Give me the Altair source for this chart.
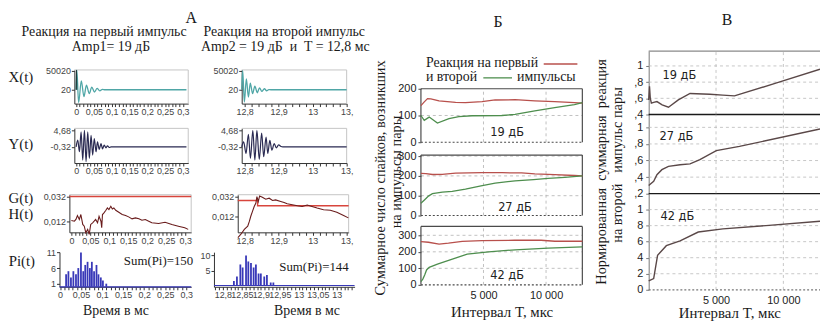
import altair as alt
import pandas as pd

# ======================= DATA =======================
# Panel A, reaction to the first pulse (time, ms)
XL_T = [0.0, 0.002, 0.007, 0.0145, 0.022, 0.029, 0.037, 0.044, 0.0515, 0.059, 0.0665, 0.074, 0.081, 0.31]
XL_V = [20, 52000, -34000, 23700, -18400, 12000, -10500, 7000, -6000, 3500, -3000, 1200, 20, 20]
XL_STIM_T = [0.0, 0.001, 0.002]
XL_STIM_V = [20, 52000, 20]
YL_T = [0.0, 0.0046, 0.0093, 0.014, 0.0186, 0.0233, 0.028, 0.0326, 0.0372, 0.042, 0.0465, 0.051,
        0.056, 0.060, 0.065, 0.070, 0.074, 0.079, 0.084, 0.088, 0.093, 0.098, 0.31]
YL_V = [-0.32, 1.7, -1.8, 4.2, -4.3, 4.68, -4.8, 4.2, -3.8, 3.2, -2.8, 2.2,
        -1.8, 1.2, -1.1, 0.7, -0.9, 0.2, -0.6, 0.0, -0.5, -0.32, -0.32]
GL_G_T = [-0.0052, 0.3159]
GL_G_V = [0.032, 0.032]
GL_H_T = [0.0, 0.008, 0.012, 0.016, 0.021, 0.025, 0.030, 0.034, 0.038, 0.043, 0.047, 0.051, 0.056,
          0.060, 0.064, 0.069, 0.073, 0.078, 0.080, 0.082, 0.086, 0.091, 0.095, 0.099, 0.104, 0.108,
          0.112, 0.117, 0.125, 0.134, 0.143, 0.151, 0.160, 0.169, 0.178, 0.186, 0.195, 0.204, 0.212,
          0.230, 0.247, 0.265, 0.282, 0.299, 0.308]
GL_H_V = [0.0125, 0.0120, 0.0134, 0.0166, 0.0134, 0.0174, 0.0094, 0.0080, 0.0027, 0.0054, 0.0014,
          0.0094, 0.0107, 0.0120, 0.0134, 0.0107, 0.0160, 0.0120, 0.0067, 0.0174, 0.0187, 0.0208,
          0.0227, 0.0214, 0.0240, 0.0219, 0.0227, 0.0208, 0.0192, 0.0174, 0.0166, 0.0155, 0.0139,
          0.0147, 0.0139, 0.0128, 0.0134, 0.0120, 0.0107, 0.0102, 0.0112, 0.0094, 0.0080, 0.0067, 0.0054]
PL_T = [0.0145, 0.020, 0.026, 0.0318, 0.038, 0.0435, 0.0498, 0.0553, 0.060, 0.0655, 0.071, 0.0757,
        0.081, 0.0867, 0.0914, 0.097, 0.102, 0.110]
PL_H = [4, 5, 3, 5, 4, 6, 11, 5, 7, 8, 6, 8, 5, 7, 4, 3, 2, 1]
PL_BASE_T = [-0.0012, 0.3118]

# Panel A, reaction to the second pulse (time, ms)
XR_T = [12.7913, 12.7942, 12.7991, 12.805, 12.811, 12.8166, 12.8233, 12.830, 12.837, 12.8437,
        12.8504, 12.858, 12.8647, 12.871, 12.877, 13.1]
XR_V = [20, 50800, -32600, 28950, -19450, 17390, -10500, 9500, -7900, 5280, -4470, 2650, -2610, 500, 20, 20]
YR_T = [12.7913, 12.797, 12.804, 12.811, 12.817, 12.824, 12.830, 12.836, 12.843, 12.850, 12.856,
        12.863, 12.868, 12.874, 12.880, 12.887, 12.893, 12.900, 12.907, 12.912, 13.1]
YR_V = [-0.32, 1.18, -2.30, 3.48, -3.79, 4.68, -4.30, 4.68, -4.09, 3.87, -3.31, 2.67, -2.30, 1.69,
        -1.31, 0.70, -0.62, 0.28, -0.20, -0.32, -0.32]
GR_G_T = [12.7796, 12.838, 12.838, 13.1058]
GR_G_V = [0.0284, 0.0284, 0.0231, 0.0231]
GR_H_T = [12.780, 12.789, 12.799, 12.809, 12.814, 12.818, 12.823, 12.828, 12.833, 12.836, 12.840,
          12.844, 12.852, 12.862, 12.872, 12.882, 12.891, 12.906, 12.916, 12.925, 12.940, 12.955,
          12.969, 12.984, 12.998, 13.013, 13.032, 13.052, 13.071, 13.091, 13.105]
GR_H_V = [-0.0087, -0.0054, -0.0005, 0.0027, 0.0077, 0.0126, 0.0175, 0.0224, 0.0258, 0.0323, 0.0274,
          0.0330, 0.0317, 0.0297, 0.0307, 0.0284, 0.0290, 0.0274, 0.0264, 0.0251, 0.0241, 0.0231,
          0.0224, 0.0238, 0.0224, 0.0209, 0.0192, 0.0186, 0.0166, 0.0133, 0.0110]
PR_T = [12.829, 12.837, 12.846, 12.852, 12.861, 12.867, 12.874, 12.881, 12.887, 12.894, 12.900,
        12.909, 12.916, 12.926, 12.933]
PR_H = [1.5, 3, 7, 6, 10, 8, 7.5, 6, 7, 4, 4, 3, 3.5, 1, 1]
PR_BASE_T = [12.7765, 13.147]

# Panel B: total spikes vs interval T (us)
B1_RED_T = [0, 250, 527, 791, 1450, 2770, 3560, 4880, 5930, 7520, 9100, 10690, 12270, 12900]
B1_RED_V = [137, 150, 163, 162, 155, 149, 148, 152, 158, 159, 155, 152, 148, 146]
B1_GRN_T = [0, 264, 659, 1318, 2240, 3030, 4090, 6460, 7520, 9100, 10690, 12270, 12900]
B1_GRN_V = [100, 82, 94, 72, 88, 96, 99, 100, 104, 117, 129, 141, 148]
B2_RED_T = [0, 400, 920, 1700, 2770, 4880, 6500, 8050, 9100, 10690, 12270, 12900]
B2_RED_V = [213, 212, 207, 208, 214, 216, 216, 215, 210, 206, 202, 200]
B2_GRN_T = [0, 300, 600, 920, 1710, 2500, 3560, 4800, 5930, 7520, 9000, 10160, 11500, 12900]
B2_GRN_V = [62, 80, 98, 110, 118, 122, 133, 150, 163, 175, 181, 187, 193, 200]
B3_RED_T = [0, 600, 1450, 2200, 3300, 4880, 7500, 9600, 10700, 12900]
B3_RED_V = [262, 258, 247, 252, 263, 268, 270, 270, 264, 264]
B3_GRN_T = [0, 150, 300, 450, 660, 1320, 2510, 3700, 5410, 7520, 10160, 12900]
B3_GRN_V = [20, 35, 60, 90, 106, 126, 156, 186, 200, 212, 222, 230]

# Panel V: normalized response to the second pulse
V1_T = [0, 60, 120, 200, 370, 613, 1000, 1470, 2200, 3070, 4540, 5500, 6370, 9500, 12720]
V1_V = [0.58, 0.75, 0.6, 0.54, 0.55, 0.56, 0.52, 0.49, 0.58, 0.66, 0.65, 0.64, 0.63, 0.79, 0.96]
V2_T = [0, 370, 613, 980, 1470, 2330, 3070, 3800, 5020, 6740, 12720]
V2_V = [0.30, 0.35, 0.43, 0.49, 0.53, 0.55, 0.56, 0.61, 0.72, 0.77, 0.98]
V3_T = [0, 370, 660, 1310, 2330, 3680, 5510, 8700, 12720]
V3_V = [0.11, 0.14, 0.43, 0.55, 0.61, 0.72, 0.76, 0.80, 0.855]

# tick values / labels
AL_TICKS = [0, 0.05, 0.1, 0.15, 0.2, 0.25, 0.3]
AL_LABELS = ["0", "0,05", "0,1", "0,15", "0,2", "0,25", "0,3"]
AR_TICKS = [12.8, 12.9, 13.0, 13.1]
AR_LABELS = ["12,8", "12,9", "13", "13,"]
PR_TICKS = [12.8, 12.85, 12.9, 12.95, 13.0, 13.05, 13.1]
PR_LABELS = ["12,8", "12,85", "12,9", "12,95", "13", "13,05", "13"]
X_YT, X_YL = [20, 50020], ["20", "50020"]
Y_YT, Y_YL = [-0.32, 4.68], ["-0,32", "4,68"]
G_YT, G_YL = [0.012, 0.032], ["0,012", "0,032"]
PL_YT, PL_YL = [1, 6, 11], ["1", "6", "11"]
PR_YT, PR_YL = [5, 10], ["5", "10"]
T_TICKS, T_LABELS = [5000, 10000], ["5 000", "10 000"]
B1_YT, B1_YL = [0, 100, 200], ["0", "100", "200"]
B23_YT, B23_YL = [0, 100, 200, 300], ["0", "100", "200", "300"]
V1_YT, V1_YL = [0.4, 0.6, 0.8, 1.0], [",4", ",6", ",8", "1"]
V2_YT, V2_YL = [0.2, 0.4, 0.6, 0.8, 1.0], [",2", ",4", ",6", ",8", "1"]
V3_YT, V3_YL = [0, 0.2, 0.4, 0.6, 0.8, 1.0], ["0", "2", "4", "6", "8", "1"]

# texts
NB = "\u00a0"
HEAD_A, HEAD_B, HEAD_V = "А", "Б", "В"
SUB_L = ["Реакция на первый импульс", "Amp1= 19 дБ"]
SUB_R = ["Реакция на второй импульс", f"Amp2 = 19 дБ {NB}и {NB}T = 12,8 мс"]
ROW_LABELS = ["X(t)", "Y(t)", "G(t)", "H(t)", "Pi(t)"]
TIME_TITLE = "Время в мс"
SUMS = ["Sum(Pi)=150", "Sum(Pi)=144"]
DB_LABELS = ["19 дБ", "27 дБ", "42 дБ"]
B_YTITLE = ["Суммарное число спайков, возникших", "на импульсы пары"]
V_YTITLE = [f"Нормированная {NB}суммарная {NB}реакция", f"на второй {NB}{NB}импульс пары"]
T_TITLE = "Интервал T, мкс"
LEGEND = ["Реакция на первый", "и второй", "импульсы"]

# ======================= LAYOUT =======================
W, H = 820, 315
M = 8
SANS = "Liberation Sans"
SERIF = "Liberation Serif"
TEAL, NAVY, GRED, HDARK, BLUE = "#4fa6a6", "#2a2a52", "#d8453c", "#6a1c1c", "#3838b8"
BRED, BGRN, VLINE = "#b8504c", "#4e8e4e", "#5a4848"


def X(px):
    return px - M


def Y(py):
    return py - M


def lab_expr(vals, labels):
    e = "''"
    for v, l in zip(reversed(vals), reversed(labels)):
        e = f"(abs(datum.value - ({v})) < 1e-7 ? '{l}' : {e})"
    return e


def xaxis(py, ticks, vals, labels, size=9, color="#444", tick=3, pad=1, dom=True, dcol="#333"):
    return alt.Axis(orient="bottom", offset=Y(py) - H, values=ticks, labelExpr=lab_expr(vals, labels),
                    title=None, grid=False, labelFlush=False, labelOverlap=False, labelBound=False,
                    tickSize=tick, tickColor=dcol, domain=dom, domainColor=dcol, labelPadding=pad,
                    labelFont=SANS, labelFontSize=size, labelColor=color)


def yaxis(px, ticks, vals, labels, size=9, color="#444", tick=3, pad=1, dom=True, dcol="#333"):
    return alt.Axis(orient="left", offset=-X(px), values=ticks, labelExpr=lab_expr(vals, labels),
                    title=None, grid=False, labelFlush=False, labelOverlap=False, labelBound=False,
                    tickSize=tick, tickColor=dcol, domain=dom, domainColor=dcol, labelPadding=pad,
                    labelFont=SANS, labelFontSize=size, labelColor=color)


def line_df(t, v):
    return pd.DataFrame({"t": t, "v": v})


def seg_df(rows):
    return pd.DataFrame(rows, columns=["t", "v", "t2", "v2"])


def panel(xdom, xpx, ydom, ypx, xax, yax, items):
    xs = alt.Scale(domain=xdom, range=[X(xpx[0]), X(xpx[1])], nice=False, zero=False)
    ys = alt.Scale(domain=ydom, range=[Y(ypx[0]), Y(ypx[1])], nice=False, zero=False)
    ex = alt.X("t:Q", scale=xs, axis=xax)
    ey = alt.Y("v:Q", scale=ys, axis=yax)
    layers = []
    for kind, df, props in items:
        if kind == "line":
            layers.append(alt.Chart(df).mark_line(**props).encode(x=ex, y=ey))
        else:
            layers.append(alt.Chart(df).mark_rule(**props).encode(x=ex, y=ey, x2="t2:Q", y2="v2:Q"))
    return alt.layer(*layers)


def frame(xd, yd, color, sides="tr", width=1, dash=None):
    rows = []
    if "t" in sides:
        rows.append((xd[0], yd[1], xd[1], yd[1]))
    if "r" in sides:
        rows.append((xd[1], yd[0], xd[1], yd[1]))
    if "l" in sides:
        rows.append((xd[0], yd[0], xd[0], yd[1]))
    if "b" in sides:
        rows.append((xd[0], yd[0], xd[1], yd[0]))
    props = dict(color=color, strokeWidth=width)
    if dash:
        props["strokeDash"] = dash
    return ("seg", seg_df(rows), props)


def spikes(t, h):
    return ("seg", pd.DataFrame({"t": t, "v": [0] * len(t), "t2": t, "v2": h}),
            dict(color=BLUE, strokeWidth=1.8))


LIGHT = "#c4c4c4"
layers = []

# ---------- Panel A left ----------
minor_l = [round(i * 0.01, 2) for i in range(31)]
xd = [-0.005, 0.315]
yd = [-36800, 52650]
layers.append(panel(xd, (75, 190), yd, (103, 69),
                    xaxis(103, minor_l, AL_TICKS, AL_LABELS), yaxis(75, X_YT, X_YT, X_YL),
                    [frame(xd, yd, LIGHT),
                     ("line", line_df(XL_T, XL_V), dict(color=TEAL, strokeWidth=1.3, interpolate="monotone")),
                     ("line", line_df(XL_STIM_T, XL_STIM_V), dict(color="#1f3a3a", strokeWidth=1.0))]))
yd = [-5.2, 5.28]
layers.append(panel(xd, (75, 190), yd, (163, 128),
                    xaxis(163, minor_l, AL_TICKS, AL_LABELS), yaxis(75, Y_YT, Y_YT, Y_YL),
                    [frame(xd, yd, LIGHT),
                     ("line", line_df(YL_T, YL_V), dict(color=NAVY, strokeWidth=1.2, interpolate="monotone"))]))
xd = [-0.0052, 0.3159]
yd = [0.003, 0.0334]
layers.append(panel(xd, (70, 193), yd, (233, 195),
                    xaxis(233, minor_l, AL_TICKS, AL_LABELS), yaxis(70, G_YT, G_YT, G_YL),
                    [frame(xd, yd, LIGHT),
                     ("line", line_df(GL_G_T, GL_G_V), dict(color=GRED, strokeWidth=1.4)),
                     ("line", line_df(GL_H_T, GL_H_V), dict(color=HDARK, strokeWidth=1.1))]))
xd = [-0.0012, 0.3118]
yd = [0, 11.1]
layers.append(panel(xd, (60, 193), yd, (288, 253),
                    xaxis(288, minor_l, AL_TICKS, AL_LABELS), yaxis(60, PL_YT, PL_YT, PL_YL),
                    [spikes(PL_T, PL_H),
                     ("line", line_df(PL_BASE_T, [0, 0]), dict(color=BLUE, strokeWidth=1.2))]))

# ---------- Panel A right ----------
minor_r = [round(12.8 + i * 0.02, 2) for i in range(16)]
xd = [12.7913, 13.1]
yd = [-36800, 52650]
layers.append(panel(xd, (244, 350), yd, (103, 69),
                    xaxis(103, minor_r, AR_TICKS, AR_LABELS), yaxis(244, X_YT, X_YT, X_YL),
                    [frame(xd, yd, LIGHT),
                     ("line", line_df(XR_T, XR_V), dict(color=TEAL, strokeWidth=1.3, interpolate="monotone"))]))
yd = [-5.2, 5.28]
layers.append(panel(xd, (244, 350), yd, (163, 128),
                    xaxis(163, minor_r, AR_TICKS, AR_LABELS), yaxis(244, Y_YT, Y_YT, Y_YL),
                    [frame(xd, yd, LIGHT),
                     ("line", line_df(YR_T, YR_V), dict(color=NAVY, strokeWidth=1.2, interpolate="monotone"))]))
xd = [12.7796, 13.1058]
yd = [-0.0035, 0.0342]
layers.append(panel(xd, (240, 352), yd, (233, 195),
                    xaxis(233, minor_r, AR_TICKS, AR_LABELS), yaxis(240, G_YT, G_YT, G_YL),
                    [frame(xd, yd, LIGHT),
                     ("line", line_df(GR_G_T, GR_G_V), dict(color=GRED, strokeWidth=1.4)),
                     ("line", line_df(GR_H_T, GR_H_V), dict(color=HDARK, strokeWidth=1.1))]))
minor_p = [round(12.78 + i * 0.01, 2) for i in range(37)]
xd = [12.7765, 13.147]
yd = [-0.43, 11.1]
layers.append(panel(xd, (216, 358), yd, (288, 253),
                    xaxis(288, minor_p, PR_TICKS, PR_LABELS), yaxis(216, PR_YT, PR_YT, PR_YL),
                    [spikes(PR_T, PR_H),
                     ("line", line_df(PR_BASE_T, [0, 0]), dict(color=BLUE, strokeWidth=1.2))]))


# ---------- Panel B ----------
def b_panel(ydom, ypx, yt, yl, red, grn, with_x):
    xd = [0, 12900]
    grid_rows = [(t, ydom[0], t, ydom[1]) for t in T_TICKS]
    grid_rows += [(xd[0], v, xd[1], v) for v in yt if ydom[0] < v < ydom[1] - 1]
    items = [("seg", seg_df(grid_rows), dict(color="#b0b0b0", strokeWidth=0.8, strokeDash=[3, 3])),
             frame(xd, ydom, "#4a4a4a", "trl", 1.2),
             frame(xd, ydom, "#4a4a4a", "b", 1.2, [2, 2]),
             ("line", line_df(*red), dict(color=BRED, strokeWidth=1.3)),
             ("line", line_df(*grn), dict(color=BGRN, strokeWidth=1.3))]
    xax = xaxis(ypx[0], T_TICKS, T_TICKS, T_LABELS, size=11, color="#222", tick=0, pad=5, dom=False) if with_x else None
    return panel(xd, (425, 588), ydom, ypx, xax,
                 yaxis(425, yt, yt, yl, size=11, color="#222", tick=3, pad=2, dom=False, dcol="#444"), items)


layers.append(b_panel([0, 200], (142, 88), B1_YT, B1_YL, (B1_RED_T, B1_RED_V), (B1_GRN_T, B1_GRN_V), False))
layers.append(b_panel([0, 305], (216, 155), B23_YT, B23_YL, (B2_RED_T, B2_RED_V), (B2_GRN_T, B2_GRN_V), False))
layers.append(b_panel([0, 354], (286, 227), B23_YT, B23_YL, (B3_RED_T, B3_RED_V), (B3_GRN_T, B3_GRN_V), True))


# ---------- Panel V ----------
def v_panel(ydom, ypx, yt, yl, data, top_color, bottom_color, bottom_dash, with_x):
    xd = [0, 12720]
    grid_rows = [(t, ydom[0], t, ydom[1]) for t in T_TICKS]
    grid_rows += [(xd[0], v, xd[1], v) for v in yt if ydom[0] + 1e-9 < v < ydom[1]]
    items = [("seg", seg_df(grid_rows), dict(color="#b8b8b8", strokeWidth=0.8, strokeDash=[3, 3])),
             frame(xd, ydom, bottom_color, "b", 1.3, [2, 2] if bottom_dash else None),
             ("line", line_df(*data), dict(color=VLINE, strokeWidth=1.4))]
    if top_color:
        items.append(frame(xd, ydom, top_color, "t", 1.2))
    xax = xaxis(ypx[0], T_TICKS, T_TICKS, T_LABELS, size=11, color="#222", tick=0, pad=5, dom=False) if with_x else None
    return panel(xd, (655, 828), ydom, ypx, xax,
                 yaxis(655, yt, yt, yl, size=11, color="#222", tick=3, pad=3, dom=True, dcol="#777"), items)


layers.append(v_panel([0.4, 1.183], (114, 50), V1_YT, V1_YL, (V1_T, V1_V), "#8a8a8a", "#1a1a1a", False, False))
layers.append(v_panel([0.2, 1.155], (194, 114), V2_YT, V2_YL, (V2_T, V2_V), None, "#1a1a1a", False, False))
layers.append(v_panel([0.0, 1.198], (291, 194), V3_YT, V3_YL, (V3_T, V3_V), None, "#777777", True, True))


# ---------- texts ----------
def label(s, px, py, size=14, font=SERIF, align="center", angle=0, color="#1a1a1a"):
    return alt.Chart(pd.DataFrame({"s": [s]})).mark_text(
        align=align, baseline="middle", fontSize=size, font=font, angle=angle, color=color
    ).encode(x=alt.value(X(px)), y=alt.value(Y(py)), text="s:N")


layers += [
    label(HEAD_A, 193, 17, 16), label(HEAD_B, 503, 21, 16), label(HEAD_V, 734, 19, 16),
    label(SUB_L[0], 105, 31, 14), label(SUB_L[1], 112, 45.5, 14),
    label(SUB_R[0], 287, 31, 14), label(SUB_R[1], 288, 45.5, 14),
    label(ROW_LABELS[0], 21, 76, 15), label(ROW_LABELS[1], 21, 144, 15),
    label(ROW_LABELS[2], 21, 198, 15), label(ROW_LABELS[3], 21, 215, 15),
    label(ROW_LABELS[4], 22, 262, 15),
    label(TIME_TITLE, 117, 312, 14), label(TIME_TITLE, 310, 312, 14),
    label(SUMS[0], 160, 262, 13), label(SUMS[1], 317, 268, 13),
    label(B_YTITLE[0], 385, 178, 14.5, angle=270), label(B_YTITLE[1], 401, 172, 14.5, angle=270),
    label(V_YTITLE[0], 608, 172, 14.5, angle=270), label(V_YTITLE[1], 624, 165, 14.5, angle=270),
    label(T_TITLE, 507, 313, 15), label(T_TITLE, 737, 314, 15),
    label(DB_LABELS[0], 512, 133, 11.5, font="DejaVu Sans", color="#222"),
    label(DB_LABELS[1], 520, 208, 11.5, font="DejaVu Sans", color="#222"),
    label(DB_LABELS[2], 512, 277, 11.5, font="DejaVu Sans", color="#222"),
    label(DB_LABELS[0], 686, 75, 11.5, font="DejaVu Sans", color="#222"),
    label(DB_LABELS[1], 683, 137, 11.5, font="DejaVu Sans", color="#222"),
    label(DB_LABELS[2], 684, 218, 11.5, font="DejaVu Sans", color="#222"),
    label(LEGEND[0], 430, 62, 14, align="left"),
    label(LEGEND[1], 430, 76, 14, align="left"),
    label(LEGEND[2], 522, 76, 14, align="left"),
]
leg_dummy = pd.DataFrame({"k": [0]})
layers.append(alt.Chart(leg_dummy).mark_rule(color=BRED, strokeWidth=1.3).encode(
    x=alt.value(X(549)), x2=alt.value(X(583)), y=alt.value(Y(63))))
layers.append(alt.Chart(leg_dummy).mark_rule(color=BGRN, strokeWidth=1.3).encode(
    x=alt.value(X(488)), x2=alt.value(X(517)), y=alt.value(Y(77))))

chart = alt.layer(*layers).resolve_scale(x="independent", y="independent").resolve_axis(
    x="independent", y="independent"
).properties(
    width=W, height=H, padding=0, autosize=alt.AutoSizeParams(type="none"), background="white"
).configure_view(stroke=None)

chart.save("out.html", embed_options={"renderer": "svg", "actions": False})
